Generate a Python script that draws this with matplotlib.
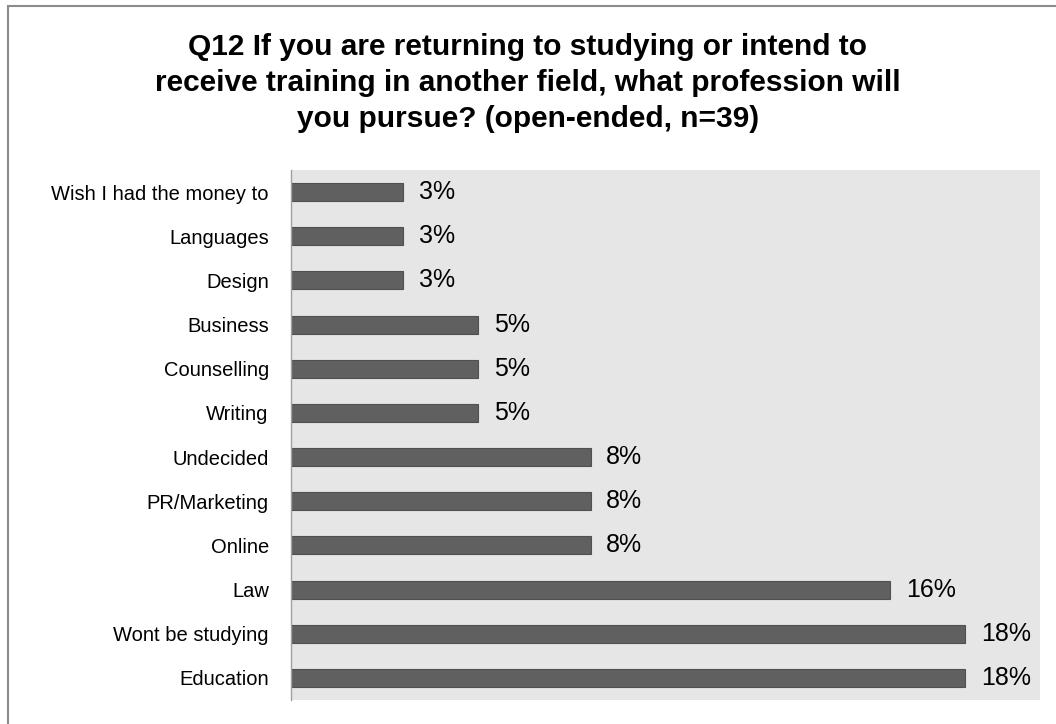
import matplotlib
matplotlib.use("Agg")
import matplotlib.pyplot as plt
from matplotlib.patches import Rectangle

plt.rcParams['font.family'] = ['Liberation Sans', 'DejaVu Sans']

categories = ["Wish I had the money to", "Languages", "Design", "Business",
              "Counselling", "Writing", "Undecided", "PR/Marketing", "Online",
              "Law", "Wont be studying", "Education"]
percent = [3, 3, 3, 5, 5, 5, 8, 8, 8, 16, 18, 18]
title = ("Q12 If you are returning to studying or intend to\n"
         "receive training in another field, what profession will\n"
         "you pursue? (open-ended, n=39)")

W, H = 1056, 724
fig = plt.figure(figsize=(W / 100, H / 100), dpi=100)

# outer chart frame
fig.patches.append(Rectangle((8 / W, -0.1), 1.2, 1 - 6 / H + 0.1,
                             transform=fig.transFigure, fill=False,
                             edgecolor='#8c8c8c', linewidth=1.5))

left, right, top, bottom = 291, 1040, 170, 700
ax = fig.add_axes([left / W, 1 - bottom / H, (right - left) / W, (bottom - top) / H])
ax.set_facecolor('#e6e6e6')

y = list(range(len(categories)))
ax.barh(y, percent, height=0.41, color='#606060', edgecolor='#505050', linewidth=0.8)
ax.set_ylim(len(categories) - 0.5, -0.5)
ax.set_xlim(0, 20)

for yi, v in zip(y, percent):
    ax.text(v + 0.42, yi, f"{v}%", va='center', ha='left', fontsize=18, color='black')

ax.set_yticks(y)
ax.set_yticklabels(categories, fontsize=14.5)
ax.tick_params(axis='y', length=0, pad=16)
ax.set_xticks([])
for s in ['top', 'right', 'bottom']:
    ax.spines[s].set_visible(False)
ax.spines['left'].set_color('#a0a0a0')
ax.spines['left'].set_linewidth(1)

fig.text(0.5, 1 - 83 / H, title, ha='center', va='center', fontsize=21.5,
         fontweight='bold', linespacing=1.36)

fig.savefig("out.png", dpi=100)
